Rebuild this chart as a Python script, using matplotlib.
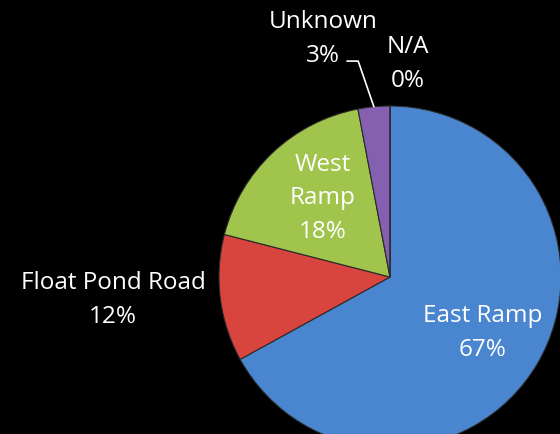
import numpy as np
import matplotlib

matplotlib.use("Agg")
import matplotlib.pyplot as plt

categories = ["East Ramp", "Float Pond Road", "West\nRamp", "Unknown", "N/A"]
values = [67, 12, 18, 3, 0]
colors = ["#4a86d0", "#d8443e", "#a0c44c", "#8560b0", "#5a8ad0"]
# label placement: (distance in radii, angle tweak in degrees)
label_pos = [(0.63, 0), (1.625, -2.7), (0.61, -3), None, None]

plt.rcParams["font.family"] = ["Open Sans", "DejaVu Sans"]

fig = plt.figure(figsize=(5.6, 4.35), dpi=100, facecolor="black")
ax = fig.add_axes([0, 0, 1, 1])
ax.set_facecolor("black")

cx, cy, R = 390, 157, 171
wedges, _ = ax.pie(values, colors=colors, startangle=90, counterclock=False,
                   center=(cx, cy), radius=R, frame=True,
                   wedgeprops=dict(edgecolor="#2a2a2a", linewidth=0.8))
ax.set_xlim(0, 560)
ax.set_ylim(0, 435)
ax.set_aspect("equal")
ax.axis("off")

fs = 17.5
ls = 1.54
for w, name, v, p in zip(wedges, categories, values, label_pos):
    if p is None:
        continue
    d, tweak = p
    mid = np.deg2rad((w.theta1 + w.theta2) / 2 + tweak)
    ax.text(cx + d * R * np.cos(mid), cy + d * R * np.sin(mid), f"{name}\n{v}%",
            ha="center", va="center", color="white", fontsize=fs, linespacing=ls)

# small slices labelled outside
w = wedges[3]
mid = np.deg2rad((w.theta1 + w.theta2) / 2)
edge = (cx + R * np.cos(mid), cy + R * np.sin(mid))
ax.annotate(f"{categories[3]}\n{values[3]}%", xy=edge, xytext=(323, 396),
            ha="center", va="center", color="white", fontsize=fs, linespacing=ls,
            arrowprops=dict(arrowstyle="-", color="white", lw=1.2, shrinkA=0, shrinkB=0,
                            patchA=None, relpos=(0.72, 0.1),
                            connectionstyle="angle,angleA=0,angleB=109,rad=0"))
ax.text(cx + 18, cy + 1.25 * R, f"{categories[4]}\n{values[4]}%",
        ha="center", va="center", color="white", fontsize=fs, linespacing=ls)

fig.savefig("out.png", dpi=100, facecolor="black")
